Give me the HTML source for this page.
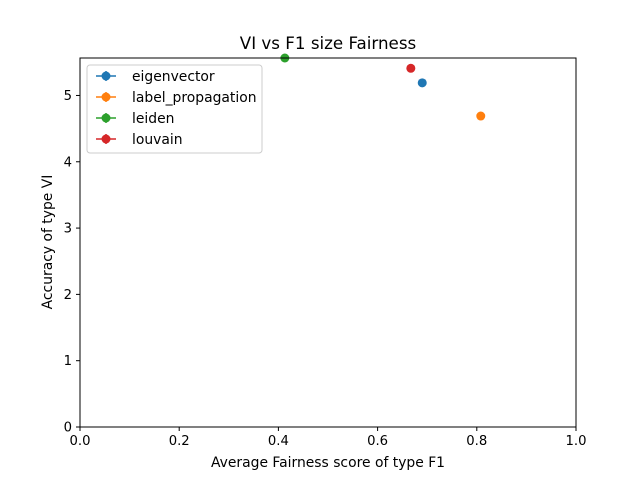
<!DOCTYPE html>
<html><head><meta charset="utf-8"><style>
body{margin:0;background:#fff;}
svg text{font-family:"DejaVu Sans","Liberation Sans",sans-serif;fill:#000;}
</style></head><body>
<svg width="640" height="480" xmlns="http://www.w3.org/2000/svg">
<rect width="640" height="480" fill="#fff"/>
<text x="328" y="49" font-size="16.7" text-anchor="middle">VI vs F1 size Fairness</text>
<g id="xticks"></g>
<g id="yticks"></g>
<g id="points"></g>
<rect x="80" y="58" width="496" height="369" fill="none" stroke="#000" stroke-width="1"/>
<text x="328" y="467" font-size="13.9" text-anchor="middle">Average Fairness score of type F1</text>
<text transform="translate(52,242) rotate(-90)" font-size="13.9" text-anchor="middle">Accuracy of type VI</text>
<g id="legend">
<rect x="87" y="65" width="175" height="88" rx="3" fill="#fff" fill-opacity="0.8" stroke="#ccc"/>
</g>
</svg>
<script>
const categories=["eigenvector","label_propagation","leiden","louvain"];
const colors=["#1f77b4","#ff7f0e","#2ca02c","#d62728"];
const xValues=[0.69,0.808,0.413,0.667];
const yValues=[5.19,4.69,5.565,5.41];
const xTicks=[0,0.2,0.4,0.6,0.8,1.0];
const xTickLabels=["0.0","0.2","0.4","0.6","0.8","1.0"];
const yTicks=[0,1,2,3,4,5];
const yTickLabels=["0","1","2","3","4","5"];
const NS="http://www.w3.org/2000/svg";
const X0=80,X1=576,Y0=427,Y1=58,YMAX=5.565;
const sx=v=>X0+v*(X1-X0);
const sy=v=>Y0-v/YMAX*(Y0-Y1);
function mk(t,a,p){const e=document.createElementNS(NS,t);for(const k in a)e.setAttribute(k,a[k]);p.appendChild(e);return e;}
const xg=document.getElementById('xticks');
xTicks.forEach((v,i)=>{
 const l=mk('line',{x1:sx(v),x2:sx(v),y1:Y0,y2:Y0+4,stroke:'#000'},xg);
 
 
 const t=mk('text',{x:sx(v),y:Y0+18,'font-size':13.2,'text-anchor':'middle'},xg);
 t.textContent=xTickLabels[i];
 
 
});
const yg=document.getElementById('yticks');
yTicks.forEach((v,i)=>{
 const l=mk('line',{x1:X0-4,x2:X0,y1:sy(v),y2:sy(v),stroke:'#000'},yg);
 
 
 const t=mk('text',{x:X0-8,y:sy(v)+4.5,'font-size':13.2,'text-anchor':'end'},yg);
 t.textContent=yTickLabels[i];
 
 
});
const pg=document.getElementById('points');
categories.forEach((c,i)=>{
 const p=mk('circle',{cx:sx(xValues[i]),cy:sy(yValues[i]),r:4.5,fill:colors[i]},pg);
 
 
});
const lg=document.getElementById('legend');
categories.forEach((c,i)=>{
 const y=76+i*21;
 const g=mk('g',{},lg);
 
 
 mk('line',{x1:96,x2:116,y1:y,y2:y,stroke:colors[i],'stroke-width':1.5},g);
 mk('line',{x1:106,x2:106,y1:y-5,y2:y+5,stroke:colors[i],'stroke-width':1.5},g);
 mk('circle',{cx:106,cy:y,r:4.5,fill:colors[i]},g);
 const t=mk('text',{x:132,y:y+5,'font-size':13.9},g);
 t.textContent=c;
});
</script>
</body></html>
